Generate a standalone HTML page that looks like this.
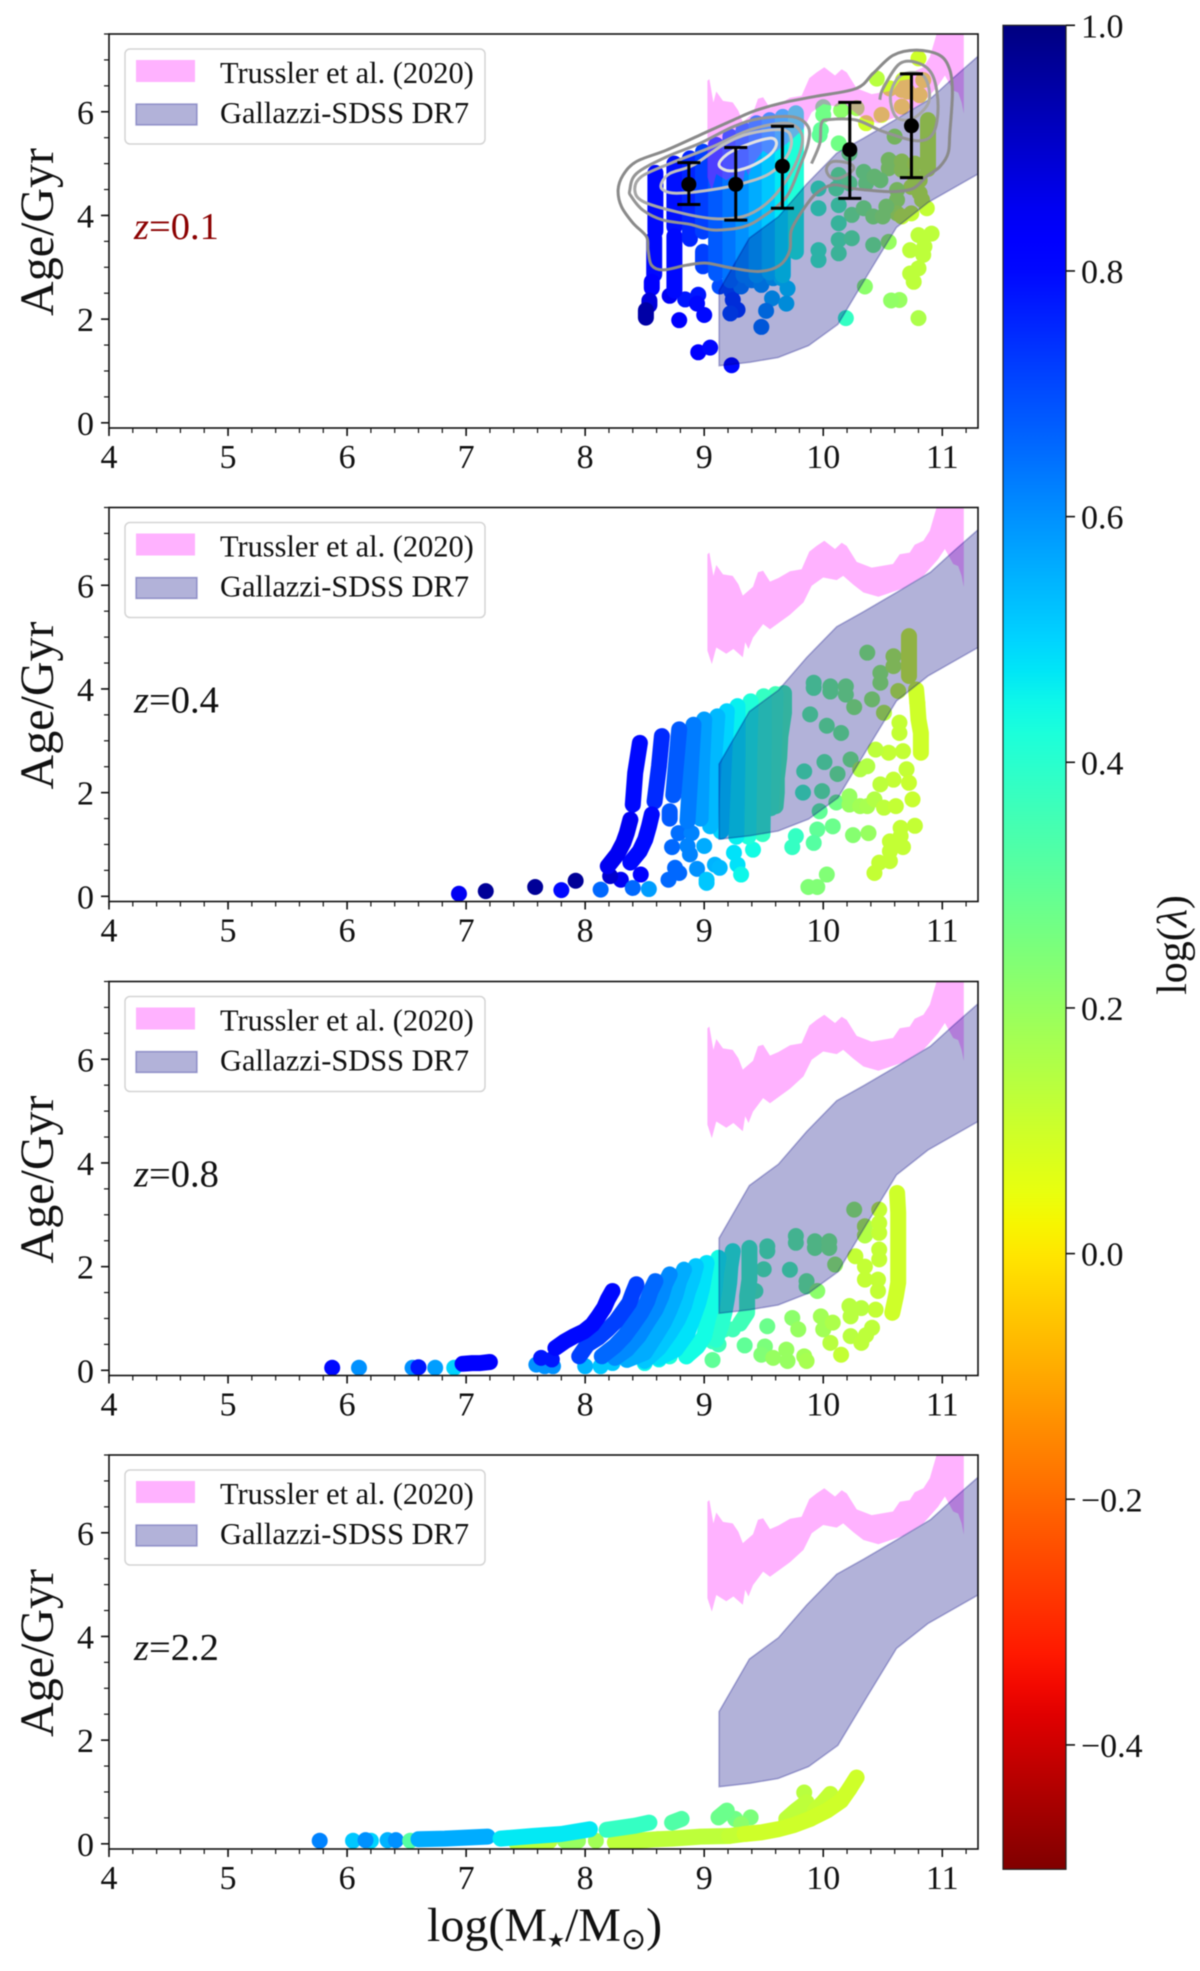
<!DOCTYPE html>
<html lang="en">
<head>
<meta charset="utf-8">
<title>Age vs stellar mass at four redshifts</title>
<style>
html,body{margin:0;padding:0;background:#fff;width:1200px;height:1971px;overflow:hidden}
svg{display:block;filter:blur(0.4px)}
text{font-family:"Liberation Serif",serif;fill:#111}
.leg{font-size:30.4px}
.tick{font-size:34px}
.ylab{font-size:48px}
.zlab{font-size:38.5px}
</style>
</head>
<body>
<svg id="chart" xmlns="http://www.w3.org/2000/svg" width="1200" height="1971" viewBox="0 0 1200 1971">
<defs>
<linearGradient id="cbar-grad" x1="0" y1="0" x2="0" y2="1"></linearGradient>
<clipPath id="axes-clip"><rect x="109" y="0" width="869" height="394"></rect></clipPath>
</defs>

<g id="panel-0" transform="translate(0,34)">
<text class="ylab" transform="translate(53,198) rotate(-90)" text-anchor="middle">Age/Gyr</text>
<g class="marks" clip-path="url(#axes-clip)"></g>
<g class="axes"></g>
<text class="zlab" x="134" y="205" style="fill:#8b0000"><tspan font-style="italic">z</tspan>=0.1</text>
<g>
<rect x="125" y="15" width="360" height="95" rx="5" fill="#fff" fill-opacity=".85" stroke="#d4d4d4" stroke-width="1.5"></rect>
<rect x="136" y="26" width="59" height="22" fill="#ff00ff" fill-opacity=".3"></rect>
<rect x="136" y="70" width="61" height="21" fill="#000080" fill-opacity=".3" stroke="#000080" stroke-opacity=".3" stroke-width="1.5"></rect>
<text class="leg" x="220" y="49">Trussler et al. (2020)</text>
<text class="leg" x="220" y="89">Gallazzi-SDSS DR7</text>
</g>
</g>

<g id="panel-1" transform="translate(0,507.5)">
<text class="ylab" transform="translate(53,198) rotate(-90)" text-anchor="middle">Age/Gyr</text>
<g class="marks" clip-path="url(#axes-clip)"></g>
<g class="axes"></g>
<text class="zlab" x="134" y="205"><tspan font-style="italic">z</tspan>=0.4</text>
<g>
<rect x="125" y="15" width="360" height="95" rx="5" fill="#fff" fill-opacity=".85" stroke="#d4d4d4" stroke-width="1.5"></rect>
<rect x="136" y="26" width="59" height="22" fill="#ff00ff" fill-opacity=".3"></rect>
<rect x="136" y="70" width="61" height="21" fill="#000080" fill-opacity=".3" stroke="#000080" stroke-opacity=".3" stroke-width="1.5"></rect>
<text class="leg" x="220" y="49">Trussler et al. (2020)</text>
<text class="leg" x="220" y="89">Gallazzi-SDSS DR7</text>
</g>
</g>

<g id="panel-2" transform="translate(0,981.5)">
<text class="ylab" transform="translate(53,198) rotate(-90)" text-anchor="middle">Age/Gyr</text>
<g class="marks" clip-path="url(#axes-clip)"></g>
<g class="axes"></g>
<text class="zlab" x="134" y="205"><tspan font-style="italic">z</tspan>=0.8</text>
<g>
<rect x="125" y="15" width="360" height="95" rx="5" fill="#fff" fill-opacity=".85" stroke="#d4d4d4" stroke-width="1.5"></rect>
<rect x="136" y="26" width="59" height="22" fill="#ff00ff" fill-opacity=".3"></rect>
<rect x="136" y="70" width="61" height="21" fill="#000080" fill-opacity=".3" stroke="#000080" stroke-opacity=".3" stroke-width="1.5"></rect>
<text class="leg" x="220" y="49">Trussler et al. (2020)</text>
<text class="leg" x="220" y="89">Gallazzi-SDSS DR7</text>
</g>
</g>

<g id="panel-3" transform="translate(0,1455)">
<text class="ylab" transform="translate(53,198) rotate(-90)" text-anchor="middle">Age/Gyr</text>
<g class="marks" clip-path="url(#axes-clip)"></g>
<g class="axes"></g>
<text class="zlab" x="134" y="205"><tspan font-style="italic">z</tspan>=2.2</text>
<g>
<rect x="125" y="15" width="360" height="95" rx="5" fill="#fff" fill-opacity=".85" stroke="#d4d4d4" stroke-width="1.5"></rect>
<rect x="136" y="26" width="59" height="22" fill="#ff00ff" fill-opacity=".3"></rect>
<rect x="136" y="70" width="61" height="21" fill="#000080" fill-opacity=".3" stroke="#000080" stroke-opacity=".3" stroke-width="1.5"></rect>
<text class="leg" x="220" y="49">Trussler et al. (2020)</text>
<text class="leg" x="220" y="89">Gallazzi-SDSS DR7</text>
</g>
</g>

<text x="427" y="1941" font-size="48">log(M<tspan font-family="DejaVu Sans" font-size="20" dy="6">★</tspan><tspan dy="-6">/M</tspan><tspan font-family="DejaVu Sans" font-size="30" dy="8">⊙</tspan><tspan dy="-8">)</tspan></text>

<g id="colorbar">
<rect x="1003" y="25.3" width="63" height="1844" fill="url(#cbar-grad)" stroke="#222" stroke-width="1.2"></rect>
</g>
<text transform="translate(1186,945) rotate(-90)" text-anchor="middle" font-size="42">log(<tspan font-style="italic">λ</tspan>)</text>
</svg>

<script>
/* ---------- axis values ---------- */
const xTickValues = [4, 5, 6, 7, 8, 9, 10, 11];
const yTickValues = [0, 2, 4, 6];
const colorbarTickValues = [1.0, 0.8, 0.6, 0.4, 0.2, 0.0, -0.2, -0.4];
const colorbarTickLabels = ["1.0", "0.8", "0.6", "0.4", "0.2", "0.0", "\u22120.2", "\u22120.4"];

/* ---------- observational bands: mass, age pairs ---------- */
const trusslerBand = [9.027,6.60, 9.044,6.63, 9.077,6.18, 9.102,6.39, 9.158,6.21, 9.239,6.18, 9.287,6.02, 9.324,5.80, 9.410,5.97, 9.452,6.25, 9.495,6.28, 9.553,6.07, 9.623,6.14, 9.721,6.27, 9.818,6.31, 9.883,6.65, 9.944,6.76, 10.009,6.86, 10.099,6.70, 10.155,6.82, 10.197,6.76, 10.281,6.45, 10.407,6.34, 10.586,6.41, 10.642,6.60, 10.726,6.63, 10.768,6.78, 10.841,6.86, 10.895,7.05, 10.965,7.6, 11.181,7.6, 11.181,5.96, 11.162,6.18, 11.134,6.37, 11.092,6.41, 11.022,6.70, 10.965,6.50, 10.841,6.18, 10.672,5.94, 10.463,5.78, 10.337,5.86, 10.253,6.01, 10.168,6.18, 10.113,6.10, 10.000,6.15, 9.903,5.99, 9.834,5.67, 9.721,5.43, 9.553,5.15, 9.495,5.25, 9.410,4.99, 9.372,4.77, 9.344,4.90, 9.324,4.61, 9.245,4.77, 9.186,4.68, 9.102,4.80, 9.064,4.48, 9.027,4.74];
const gallazziBand = [9.125,2.55, 9.380,3.565, 9.623,3.976, 9.861,4.607, 10.113,5.2, 10.339,5.49, 10.615,5.86, 10.900,6.25, 11.097,6.66, 11.30,7.07, 11.30,4.8, 10.880,4.25, 10.615,3.77, 10.368,2.84, 10.123,1.9, 9.877,1.49, 9.621,1.26, 9.385,1.17, 9.125,1.1];

/* ---------- z=0.1 overlay: error bars and contours ---------- */
const errMass = [8.871, 9.265, 9.657, 10.223, 10.741];
const errAge  = [4.60, 4.60, 4.95, 5.27, 5.73];
const errHigh = [5.02, 5.31, 5.72, 6.18, 6.73];
const errLow  = [4.21, 3.91, 4.14, 4.33, 4.73];

const contourOuter = [8.277,4.49, 8.319,4.78, 8.431,5.04, 8.683,5.26, 8.963,5.55, 9.243,5.84, 9.439,6.03, 9.691,6.19, 9.943,6.30, 10.279,6.45, 10.419,6.74, 10.587,7.09, 10.783,7.19, 10.979,7.09, 11.063,6.81, 11.085,6.36, 11.063,5.58, 11.049,5.20, 10.979,4.94, 10.867,4.75, 10.755,4.52, 10.587,4.46, 10.419,4.48, 10.251,4.52, 10.083,4.59, 9.943,4.43, 9.831,4.11, 9.733,3.72, 9.719,3.33, 9.635,3.04, 9.467,2.92, 9.243,2.98, 9.019,3.08, 8.851,3.04, 8.655,2.95, 8.557,3.04, 8.529,3.33, 8.515,3.59, 8.403,3.85, 8.305,4.17];
const contourSecondLeft = [8.375,4.49, 8.431,4.81, 8.683,5.13, 8.963,5.39, 9.243,5.71, 9.467,5.87, 9.747,5.90, 9.873,5.71, 9.873,5.39, 9.803,4.94, 9.691,4.36, 9.495,3.98, 9.327,3.78, 9.075,3.72, 8.879,3.83, 8.655,3.91, 8.487,4.10, 8.389,4.36];
const contourSecondRight = [9.901,5.0, 9.971,5.39, 9.985,5.78, 10.055,5.85, 10.279,5.84, 10.503,5.62, 10.783,5.44, 10.923,5.58, 10.965,6.10, 10.923,6.68, 10.811,6.93, 10.643,6.93, 10.503,6.45, 10.475,6.23];
const contourSmall = [10.027,4.91, 10.083,5.04, 10.223,5.0, 10.251,4.88, 10.139,4.72, 10.055,4.75];
const contourThird = [8.417,4.49, 8.473,4.75, 8.711,5.0, 9.075,5.33, 9.383,5.65, 9.691,5.78, 9.817,5.58, 9.803,5.20, 9.691,4.68, 9.523,4.23, 9.327,3.98, 9.075,3.94, 8.767,4.07, 8.487,4.27];
const contourThirdRight = [10.573,6.42, 10.657,6.71, 10.811,6.74, 10.881,6.52, 10.881,6.16, 10.755,5.87, 10.629,5.87, 10.573,6.10];
const contourFourth = [8.641,4.62, 8.711,4.81, 8.907,4.97, 9.159,5.36, 9.383,5.58, 9.663,5.65, 9.733,5.45, 9.691,5.13, 9.551,4.81, 9.327,4.62, 9.047,4.49, 8.767,4.43, 8.655,4.49];
const contourInner = [9.125,4.97, 9.187,5.17, 9.355,5.36, 9.551,5.49, 9.607,5.39, 9.551,5.17, 9.383,4.94, 9.215,4.86];

/* ---------- galaxies, dense sequences: [lambda, mass, age, mass, age, ...] ---------- */
const z01Streaks = [
[.8,8.59,4.82,8.59,3.70],
[.8,8.58,3.56,8.58,2.86],
[.82,8.56,2.72,8.56,2.6],
[.88,8.54,2.36,8.54,2.27],
[.95,8.51,2.17,8.51,2.03],
[.79,8.75,5.0,8.75,3.78],
[.8,8.75,3.6,8.75,2.55],
[.76,8.88,5.1,8.88,3.55],
[.72,8.99,5.23,8.99,3.69],
[.72,8.99,3.3,8.99,3.02],
[.68,9.10,5.36,9.10,4.5,9.10,2.88],
[.64,9.22,5.52,9.22,4.4,9.22,2.75],
[.6,9.33,5.65,9.33,4.3,9.33,2.85],
[.56,9.44,5.78,9.44,4.3,9.44,2.85],
[.52,9.55,5.84,9.55,4.3,9.55,2.9],
[.47,9.66,5.9,9.66,4.3,9.66,2.85],
[.42,9.77,5.97,9.77,4.5,9.77,3.3],
[.12,10.88,5.84,10.88,5.33,10.88,4.9]
];
const z01Tracks = [
[.85,8.71,2.45],
[.78,8.84,2.38,8.95,2.47],[.8,8.94,2.30,9.00,2.08],[.82,8.79,1.98],[.82,8.95,1.36],[.8,9.05,1.45,9.23,1.11],
[.7,9.13,2.63,9.23,2.53],[.72,9.24,2.37,9.28,2.18],[.7,9.22,2.11],[.62,9.31,2.63],[.6,9.40,2.75],[.58,9.48,2.66],[.55,9.58,2.79],[.5,9.65,2.79,9.70,2.59],[.55,9.57,2.40],[.52,9.69,2.30],[.6,9.52,2.16],[.63,9.48,1.85],
[.27,10.0,6.09,10.0,5.94],[.22,10.15,6.03],[.18,10.28,6.07],[.14,10.45,6.64],[.1,10.80,7.03],[.1,10.56,6.45],[.1,10.67,6.61],[.1,10.66,6.42],[.1,10.71,6.39],[.1,10.84,6.61,10.81,6.32],[.1,10.49,5.94,10.66,6.10],[.1,10.36,5.78],
[.3,9.97,5.55,9.98,5.65],[.27,10.13,5.39],[.25,10.22,5.2],
[.17,10.60,5.52],[.18,10.60,5.0,10.55,5.07,10.55,4.91],[.14,10.66,5.04,10.66,4.88],[.12,10.77,5.0,10.77,4.75,10.74,4.55],[.12,10.81,4.68,10.81,4.43,10.83,4.3],[.17,10.62,4.49,10.62,4.3],[.15,10.62,4.04],[.12,10.74,4.04],[.12,10.66,3.98],[.12,10.87,4.14],
[.26,10.24,4.01],[.24,10.34,4.14,10.34,4.84,10.36,4.62],[.22,10.42,3.98,10.48,4.68,10.43,4.75],[.2,10.50,3.98,10.53,4.17],[.28,10.13,4.78],[.27,10.22,4.62],[.3,10.11,4.52],
[.36,9.96,4.52,9.96,4.14,9.96,3.33,9.96,3.14],[.33,10.13,4.2,10.13,3.85],[.32,10.13,3.53,10.13,3.27],[.3,10.24,3.56],[.26,10.42,3.43],[.2,10.55,3.49],
[.13,10.91,3.65,10.80,3.62,10.85,3.4,10.73,3.33,10.84,3.24,10.80,2.98,10.73,2.88,10.76,2.72],[.22,10.35,2.63],[.2,10.64,2.37],[.21,10.57,2.36],[.16,10.80,2.02],[.38,10.19,2.02]
];

const z04Streaks = [
[.34,9.67,3.92,9.67,3.54,9.64,3.09,9.63,2.67,9.61,2.28,9.61,2.0,9.6,1.74],
[.36,9.60,3.9,9.59,3.1,9.58,2.5,9.56,1.7],
[.38,9.50,3.86,9.50,2.91,9.49,1.2],
[.42,9.39,3.76,9.38,2.81,9.37,1.15],
[.46,9.28,3.67,9.28,2.72,9.27,1.15],
[.5,9.19,3.57,9.17,2.81,9.14,1.25],
[.54,9.11,3.47,9.08,2.52,9.05,1.35],
[.58,9.0,3.41,8.98,2.46,8.97,1.5],
[.63,8.91,3.31,8.89,2.55,8.86,1.45],
[.68,8.79,3.22,8.76,2.46,8.74,1.95],
[.68,8.71,1.64,8.71,1.5],
[.75,8.645,3.09,8.62,2.51,8.583,1.83],
[.8,8.56,1.58,8.536,1.35,8.505,1.1,8.458,.87,8.38,.65],
[.8,8.46,2.96,8.42,2.38,8.40,1.77],
[.85,8.38,1.48,8.35,1.22,8.32,1.03,8.27,.81,8.19,.58],
[.1,10.72,5.02,10.72,4.25],
[.1,10.78,3.99,10.79,3.73],
[.1,10.79,3.73,10.8,3.41,10.82,3.15,10.82,2.77]
];
const z04Tracks = [
[.82,8.467,.42],[.85,8.30,.32],[.9,8.21,.39],[.97,7.92,.30,7.58,.18],[.8,7.80,.12],[.97,7.165,.10],[.85,6.94,.05],[.66,8.13,.13,8.40,.16],[.58,8.535,.14],
[.65,8.785,1.22],[.62,8.894,1.22],[.66,8.73,.95],[.62,8.86,.97,8.88,.81],[.56,9.0,.97],[.55,9.09,.61],[.54,9.13,.55],[.48,9.28,.61,9.25,.84],[.45,9.31,.42],[.6,8.94,.53],[.66,8.755,.55,8.79,.45,8.70,.32],[.52,9.02,.26,9.02,.32],[.44,9.41,.9],
[.38,9.77,1.16,9.74,.95],[.3,9.95,1.29,9.97,1.64],[.32,9.92,1.03],[.28,10.08,1.35],[.23,10.25,1.18],[.2,10.38,1.22],[.24,10.03,.42,9.875,.18,9.95,.18],[.27,10.11,1.81],[.2,10.22,1.93,10.22,1.77],[.18,10.31,1.74],[.17,10.37,1.74],[.15,10.43,1.87],[.13,10.51,1.71],[.12,10.61,1.74,10.65,1.32,10.65,1.16,10.56,1.06,10.56,.87,10.56,.68,10.47,.65,10.43,.45],[.12,10.77,1.36,10.67,.95],
[.22,10.37,4.7],[.3,9.92,4.12,9.92,4.02],[.27,10.06,4.05,10.06,3.95],[.25,10.19,4.05,10.19,3.89],[.22,10.26,3.65],[.3,9.89,3.51],[.28,10.03,3.29],[.27,10.15,3.15],[.33,9.84,2.41],[.3,10.01,2.59],[.27,10.12,2.36],[.25,10.23,2.64],[.35,9.83,2.0],[.3,9.99,2.03],
[.2,10.41,3.8,10.48,4.31,10.48,4.12],[.15,10.59,4.63,10.59,4.44],[.12,10.63,3.96],[.14,10.51,3.54],[.12,10.64,3.35,10.64,3.15],[.12,10.55,2.77],[.12,10.67,2.8],[.13,10.44,2.83],[.15,10.37,2.51,10.31,2.45],[.12,10.70,2.45],[.12,10.59,2.25],[.13,10.48,2.16],[.11,10.72,2.19,10.75,1.87]
];

const z08Streaks = [
[.36,9.38,2.36,9.38,2.07,9.38,1.75,9.36,1.43,9.36,1.11,9.30,.9],
[.4,9.24,2.3,9.22,2.0,9.21,1.69,9.19,1.37,9.17,1.11,9.14,.85,9.10,.59],
[.44,9.12,2.17,9.10,1.88,9.09,1.62,9.07,1.3,9.03,.98,9.0,.66,8.94,.45,8.85,.27],
[.48,9.02,2.07,9.0,1.82,8.98,1.56,8.95,1.30,8.91,1.04,8.86,.72,8.76,.40,8.62,.24],
[.52,8.93,2.01,8.90,1.75,8.86,1.49,8.83,1.24,8.78,.98,8.71,.72,8.62,.43,8.50,.18],
[.56,8.83,1.94,8.79,1.72,8.76,1.46,8.71,1.17,8.66,.92,8.59,.66,8.50,.34,8.35,.2],
[.61,8.71,1.85,8.67,1.66,8.64,1.43,8.59,1.17,8.52,.92,8.45,.66,8.35,.4,8.25,.24],
[.66,8.59,1.72,8.55,1.53,8.52,1.33,8.47,1.11,8.40,.88,8.33,.66,8.25,.47,8.14,.27],
[.72,8.43,1.66,8.40,1.49,8.37,1.30,8.31,1.11,8.26,.95,8.19,.79,8.11,.63,8.02,.50,7.95,.27],
[.8,8.23,1.53,8.19,1.37,8.16,1.21,8.11,1.04,8.06,.88,7.99,.75,7.90,.65,7.83,.56,7.75,.43],
[.1,10.62,3.42,10.63,3.04,10.63,2.59,10.63,2.14,10.63,1.69,10.61,1.43,10.58,1.11],
[.82,6.97,.125,7.05,.14,7.12,.14,7.20,.16]
];
const z08Tracks = [
[.8,5.875,.05],[.6,6.10,.05],[.6,6.55,.05],[.78,6.60,.06],[.58,6.74,.05],[.5,6.90,.05],
[.6,7.59,.11,7.66,.08,7.73,.08],[.78,7.63,.24,7.72,.21],
[.55,8.0,.08],[.52,8.13,.08,8.23,.14],[.5,8.35,.21],[.45,8.50,.14,8.62,.21],[.42,8.71,.27],[.4,8.85,.27],[.38,8.91,.46,9.07,.56],[.36,9.12,.5,9.24,.79,9.17,.79],
[.33,9.53,2.39,9.53,2.3,9.50,1.95],[.34,9.43,1.53],
[.3,9.77,2.59,9.77,2.46],[.27,9.93,2.49,9.93,2.36],[.25,10.05,2.49,10.05,2.36],[.33,9.72,1.94],[.28,9.86,1.72,9.86,1.62],[.22,9.95,1.53],[.2,10.10,2.04,10.26,3.1],[.15,10.35,2.78,10.35,2.6],[.12,10.47,3.1,10.47,2.84,10.47,2.65,10.27,2.2,10.35,2.0,10.35,1.75,10.46,1.75,10.46,1.53,10.44,1.17],[.12,10.47,2.33,10.47,2.14],
[.14,10.22,1.24,10.32,1.2,10.23,1.04,10.06,.53,10.23,.66],[.18,9.98,1.04,10.0,.79],[.16,10.08,.92],[.13,10.41,.82,10.32,.53,10.36,.68],[.12,10.15,.3],
[.22,9.74,1.01],[.2,9.79,.79,9.69,.4,9.70,.18],[.28,9.53,.85],[.3,9.34,.48],[.25,9.51,.46],[.24,9.48,.3],[.2,9.58,.24],[.18,9.84,.27],[.17,9.86,.18],[.3,9.07,.2]
];

const z22Streaks = [
[.14,7.42,.03,7.7,.05],
[.2,7.83,.06,7.94,.06],
[.13,8.25,.03,8.61,.09],
[.13,8.61,.09,8.73,.1,8.97,.14,9.21,.15],
[.12,9.21,.15,9.34,.19],
[.13,9.69,.48,9.77,.64,9.86,.8],
[.12,9.93,.64,10.0,.8,10.06,.96],
[.1,9.34,.19,9.48,.22,9.62,.28,9.75,.36,9.89,.48],
[.1,9.89,.48,10.03,.64,10.15,.83,10.22,1.06],
[.1,10.22,1.06,10.28,1.28],
[.56,6.6,.09,6.82,.1,7.18,.14],
[.47,7.29,.1,7.56,.15,7.80,.19,8.04,.28],
[.38,8.18,.27,8.42,.35,8.54,.41],
[.33,8.73,.41,8.81,.48],
[.28,9.12,.51,9.19,.64]
];
const z22Tracks = [
[.18,8.09,.06],[.14,9.84,.99],
[.62,5.77,.06],[.52,6.05,.06],[.5,6.20,.06],[.6,6.155,.07],[.55,6.34,.07],[.6,6.41,.07],[.32,6.53,.06],
[.27,9.26,.48],[.25,9.39,.51],[.22,9.31,.38]
];

const panelDots = [
  {streaks: z01Streaks, tracks: z01Tracks},
  {streaks: z04Streaks, tracks: z04Tracks},
  {streaks: z08Streaks, tracks: z08Tracks},
  {streaks: z22Streaks, tracks: z22Tracks}
];

/* ---------- helpers ---------- */
const NS = 'http://www.w3.org/2000/svg';
function xScale(m) { return 109 + (m - 4) * 869 / 7.3; }
function yScale(a) { return (7.5 - a) * 394 / 7.6; }
function cbScale(v) { return 25.3 + (1 - v) * 1228.3; }
function piecewise(knots, f) {
  for (let i = 0; i + 1 < knots.length; i++) {
    const a = knots[i], b = knots[i + 1];
    if (f <= b[0]) return a[1] + (b[1] - a[1]) * (f - a[0]) / (b[0] - a[0]);
  }
  return knots[knots.length - 1][1];
}
/* matplotlib jet channel definitions */
const jetRed = [[0,0],[.35,0],[.66,1],[.89,1],[1,.5]];
const jetGreen = [[0,0],[.125,0],[.375,1],[.64,1],[.91,0],[1,0]];
const jetBlue = [[0,.5],[.11,1],[.34,1],[.65,0],[1,0]];
function lambdaColor(v) {
  const f = Math.max(0, Math.min(1, (1 - v) / 1.5));
  const r = piecewise(jetRed, f);
  const g = piecewise(jetGreen, f);
  const b = piecewise(jetBlue, f);
  return 'rgb(' + Math.round(r * 255) + ',' + Math.round(g * 255) + ',' + Math.round(b * 255) + ')';
}
function make(tag, parent, attrs) {
  const el = document.createElementNS(NS, tag);
  for (const k in attrs) el.setAttribute(k, attrs[k]);
  parent.appendChild(el);
  return el;
}
function addDot(parent, lam, m, a) {
  const el = make('circle', parent, {cx: xScale(m), cy: yScale(a), r: 8, fill: lambdaColor(lam)});
  
  
}
function addStreak(parent, tr) {
  let pts = '';
  for (let i = 1; i < tr.length; i += 2) pts += xScale(tr[i]).toFixed(1) + ',' + yScale(tr[i + 1]).toFixed(1) + ' ';
  const el = make('polyline', parent, {points: pts, fill: 'none', stroke: lambdaColor(tr[0]), 'stroke-width': 16, 'stroke-linecap': 'round', 'stroke-linejoin': 'round'});
  
  
}
function bandPath(band) {
  let d = '';
  for (let i = 0; i < band.length; i += 2) d += (i ? 'L' : 'M') + xScale(band[i]).toFixed(1) + ' ' + yScale(band[i + 1]).toFixed(1);
  return d + 'Z';
}
function smoothPath(line, closed) {
  const p = [];
  for (let i = 0; i < line.length; i += 2) p.push([xScale(line[i]), yScale(line[i + 1])]);
  const n = p.length;
  const at = function (i) { return closed ? p[(i + n) % n] : p[Math.max(0, Math.min(n - 1, i))]; };
  let d = 'M' + p[0][0].toFixed(1) + ' ' + p[0][1].toFixed(1);
  const segs = closed ? n : n - 1;
  for (let i = 0; i < segs; i++) {
    const a = at(i - 1), b = at(i), c = at(i + 1), e = at(i + 2);
    d += 'C' + (b[0] + (c[0] - a[0]) / 6).toFixed(1) + ' ' + (b[1] + (c[1] - a[1]) / 6).toFixed(1) + ' ' +
         (c[0] - (e[0] - b[0]) / 6).toFixed(1) + ' ' + (c[1] - (e[1] - b[1]) / 6).toFixed(1) + ' ' +
         c[0].toFixed(1) + ' ' + c[1].toFixed(1);
  }
  return d + (closed ? 'Z' : '');
}

/* ---------- panels ---------- */
panelDots.forEach(function (data, idx) {
  const panel = document.getElementById('panel-' + idx);
  const marks = panel.querySelector('.marks');
  const axes = panel.querySelector('.axes');

  data.tracks.forEach(function (tr) {
    for (let i = 1; i < tr.length; i += 2) addDot(marks, tr[0], tr[i], tr[i + 1]);
  });
  data.streaks.forEach(function (tr) {
    addStreak(marks, tr);
  });

  const pink = make('path', marks, {d: bandPath(trusslerBand), fill: '#ff00ff', 'fill-opacity': .3});
  
  

  const blue = make('path', marks, {d: bandPath(gallazziBand), fill: '#000080', 'fill-opacity': .3, stroke: '#000080', 'stroke-opacity': .3, 'stroke-width': 1.5});
  
  

  if (idx === 0) {
    const contourSet = [
      [contourOuter, true, '#8a8a8a'],
      [contourSecondLeft, true, '#949494'],
      [contourSecondRight, false, '#949494'],
      [contourSmall, true, '#949494'],
      [contourThird, true, '#a6a6a6'],
      [contourThirdRight, true, '#a6a6a6'],
      [contourFourth, true, '#c0c0c0'],
      [contourInner, true, '#e2e2e2']
    ];
    contourSet.forEach(function (c) {
      const line = make('path', marks, {d: smoothPath(c[0], c[1]), fill: 'none', stroke: c[2], 'stroke-width': 3});
      
      
    });
    errMass.forEach(function (m, i) {
      const x = xScale(m), hi = yScale(errHigh[i]), lo = yScale(errLow[i]);
      const bar = make('path', marks, {d: 'M' + x + ' ' + hi + 'V' + lo + 'M' + (x - 11.5) + ' ' + hi + 'H' + (x + 11.5) + 'M' + (x - 11.5) + ' ' + lo + 'H' + (x + 11.5), stroke: '#000', 'stroke-width': 3, fill: 'none'});
      
      
      const dot = make('circle', marks, {cx: x, cy: yScale(errAge[i]), r: 7.5, fill: '#000'});
      
      
    });
  }

  const frame = make('rect', axes, {x: 109, y: 0, width: 869, height: 394, fill: 'none', stroke: '#111', 'stroke-width': 1.6});
  
  

  for (let v = 4; v < 11.31; v += 0.2) {
    const mn = make('line', axes, {x1: xScale(v), x2: xScale(v), y1: 394, y2: 399, stroke: '#111', 'stroke-width': 1.2});
    
    
  }
  for (let v = 0; v < 7.51; v += 0.5) {
    const mn = make('line', axes, {x1: 104, x2: 109, y1: yScale(v), y2: yScale(v), stroke: '#111', 'stroke-width': 1.2});
    
    
  }
  xTickValues.forEach(function (v) {
    const tk = make('line', axes, {x1: xScale(v), x2: xScale(v), y1: 394, y2: 402, stroke: '#111', 'stroke-width': 1.6});
    
    
    const lb = make('text', axes, {x: xScale(v), y: 434, 'text-anchor': 'middle', class: 'tick'});
    lb.textContent = String(v);
    
    
  });
  yTickValues.forEach(function (v) {
    const tk = make('line', axes, {x1: 101, x2: 109, y1: yScale(v), y2: yScale(v), stroke: '#111', 'stroke-width': 1.6});
    
    
    const lb = make('text', axes, {x: 94, y: yScale(v) + 12, 'text-anchor': 'end', class: 'tick'});
    lb.textContent = String(v);
    
    
  });
});

/* ---------- colorbar ---------- */
const grad = document.getElementById('cbar-grad');
for (let i = 0; i <= 60; i++) {
  make('stop', grad, {offset: i / 60, 'stop-color': lambdaColor(1 - i * 1.5 / 60)});
}
const cbar = document.getElementById('colorbar');
colorbarTickValues.forEach(function (v, i) {
  const y = cbScale(v);
  const tk = make('line', cbar, {x1: 1066, x2: 1075, y1: y, y2: y, stroke: '#111', 'stroke-width': 1.6});
  
  
  const lb = make('text', cbar, {x: 1081, y: y + 12, class: 'tick'});
  lb.textContent = colorbarTickLabels[i];
  
  
});
</script>
</body>
</html>
